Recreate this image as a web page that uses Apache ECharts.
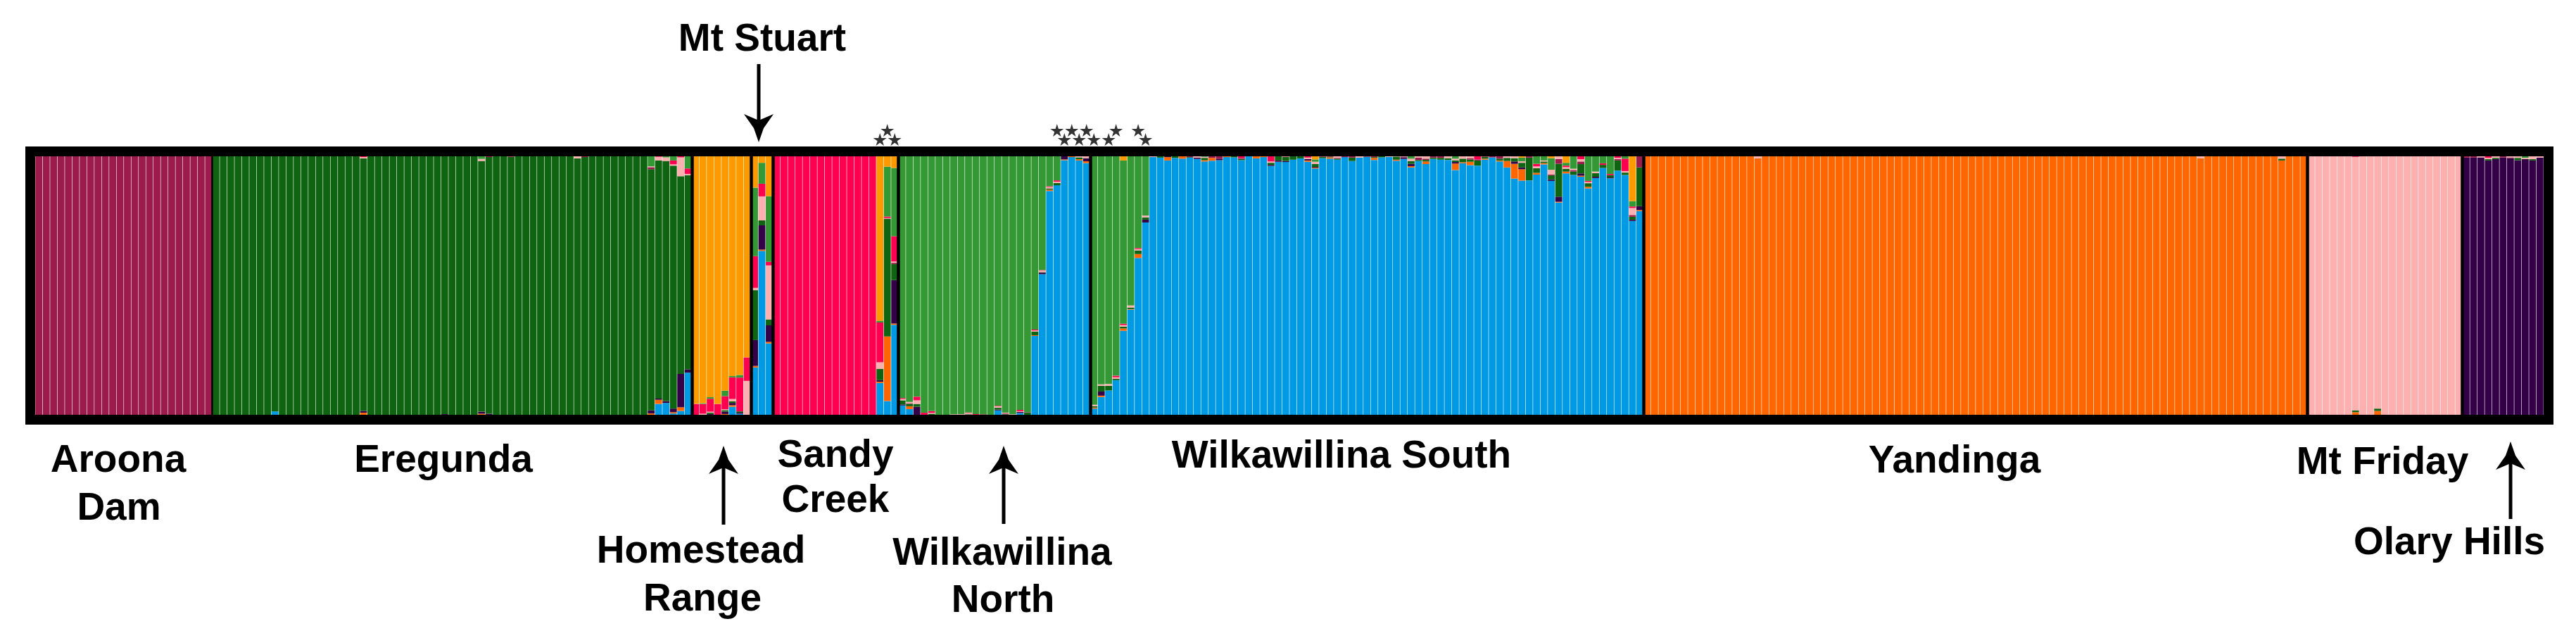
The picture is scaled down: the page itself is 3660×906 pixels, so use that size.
<!DOCTYPE html>
<html>
<head>
<meta charset="utf-8">
<script src="https://cdn.jsdelivr.net/npm/echarts@6/dist/echarts.min.js"></script>
<style>
  html, body { margin: 0; padding: 0; background: #fff; }
  #chart { width: 3660px; height: 906px; }
</style>
</head>
<body>
<div id="chart"></div>
<script>
// cluster order, bottom of each bar to top
var clusterNames = ['Wilkawillina South', 'Yandinga', 'Olary Hills', 'Eregunda', 'Aroona Dam',
                    'Mt Friday', 'Sandy Creek', 'Wilkawillina North', 'Homestead Range'];
var clusterColors = ['#009ae4', '#ff6600', '#330048', '#0e6410', '#9b1b4c',
                     '#fcb0b0', '#ff0050', '#349934', '#fd9a00'];

// membership (%) per individual, same order as clusterNames
var aroonaDam = [
  [0,0,0,0,100,0,0,0,0],[0,0,0,0,100,0,0,0,0],[0,0,0,0,100,0,0,0,0],[0,0,0,0,100,0,0,0,0],
  [0,0,0,0,100,0,0,0,0],[0,0,0,0,100,0,0,0,0],[0,0,0,0,100,0,0,0,0],[0,0,0,0,100,0,0,0,0],
  [0,0,0,0,100,0,0,0,0],[0,0,0,0,100,0,0,0,0],[0,0,0,0,100,0,0,0,0],[0,0,0,0,100,0,0,0,0],
  [0,0,0,0,100,0,0,0,0],[0,0,0,0,100,0,0,0,0],[0,0,0,0,100,0,0,0,0],[0,0,0,0,100,0,0,0,0],
  [0,0,0,0,100,0,0,0,0],[0,0,0,0,100,0,0,0,0],[0,0,0,0,100,0,0,0,0],[0,0,0,0,100,0,0,0,0],
  [0,0,0,0,100,0,0,0,0],[0,0,0,0,100,0,0,0,0],[0,0,0,0,100,0,0,0,0],[0,0,0,0,100,0,0,0,0]
];
var eregunda = [
  [0,0,0,100,0,0,0,0,0],[0,0,0,100,0,0,0,0,0],[0,0,0,100,0,0,0,0,0],[0,0,0,100,0,0,0,0,0],
  [0,0,0,100,0,0,0,0,0],[0,0,0,100,0,0,0,0,0],[0,0,0,100,0,0,0,0,0],[0,0,0,100,0,0,0,0,0],
  [1.3,0,0,98.7,0,0,0,0,0],
  [0,0,0,100,0,0,0,0,0],[0,0,0,100,0,0,0,0,0],[0,0,0,100,0,0,0,0,0],[0,0,0,100,0,0,0,0,0],
  [0,0,0,100,0,0,0,0,0],[0,0,0,100,0,0,0,0,0],[0,0,0,100,0,0,0,0,0],[0,0,0,100,0,0,0,0,0],
  [0,0,0,100,0,0,0,0,0],[0,0,0,100,0,0,0,0,0],[0,0,0,100,0,0,0,0,0],
  [0,0.8,0.7,97.7,0,0.5,0.3,0,0],
  [0,0,0,100,0,0,0,0,0],[0,0,0,100,0,0,0,0,0],[0,0,0,100,0,0,0,0,0],[0,0,0,100,0,0,0,0,0],
  [0,0,0,100,0,0,0,0,0],[0,0,0,100,0,0,0,0,0],[0,0,0,100,0,0,0,0,0],[0,0,0,100,0,0,0,0,0],
  [0,0,0,100,0,0,0,0,0],[0,0,0,100,0,0,0,0,0],
  [0,0,0.3,99.7,0,0,0,0,0],
  [0,0,0,100,0,0,0,0,0],[0,0,0,100,0,0,0,0,0],[0,0,0,100,0,0,0,0,0],[0,0,0,100,0,0,0,0,0],
  [0,0.4,0.8,97,0,0.8,0,1,0],
  [0,0,0.4,99.3,0.3,0,0,0,0],
  [0,0,0,100,0,0,0,0,0],[0,0,0,100,0,0,0,0,0],
  [0,0,0,99.8,0.2,0,0,0,0],
  [0,0,0,100,0,0,0,0,0],[0,0,0,100,0,0,0,0,0],[0,0,0,100,0,0,0,0,0],[0,0,0,100,0,0,0,0,0],
  [0,0,0,100,0,0,0,0,0],[0,0,0,100,0,0,0,0,0],[0,0,0,100,0,0,0,0,0],[0,0,0,100,0,0,0,0,0],
  [0,0,0,99.2,0,0.8,0,0,0],
  [0,0,0,99.7,0.3,0,0,0,0],
  [0,0,0,100,0,0,0,0,0],[0,0,0,100,0,0,0,0,0],[0,0,0,100,0,0,0,0,0],[0,0,0,100,0,0,0,0,0],
  [0,0,0,100,0,0,0,0,0],[0,0,0,100,0,0,0,0,0],[0,0,0,100,0,0,0,0,0],[0,0,0,100,0,0,0,0,0],
  [0,0.5,1.2,93.3,0.8,0.3,0,3.9,0],
  [4.2,1.6,0.5,92.1,0,1.4,0.2,0,0],
  [4.6,0,0.7,92.9,0,1.4,0,0.4,0],
  [0.5,0.5,1.4,94,0,0.5,1.5,1.6,0],
  [1.5,1.4,12.9,76.5,0,7.3,0.4,0,0],
  [16.3,0,1.3,75.1,0,0.5,2.1,4.7,0]
];
var homesteadRange = [
  [0,0,0,0,0,0,4.2,0,95.8],
  [0,0,0,0,0,0.4,3.8,0.3,95.5],
  [0,0,0.3,0.5,0,0.4,5,0.6,93.2],
  [0,0,0,0,0,0,4.2,0,95.8],
  [0,0.3,0.9,0.6,0,0.3,5.1,2.1,90.7],
  [3.1,0.6,0.9,0.6,0,0.9,8.4,0.5,85],
  [0.4,0,0.4,0.5,0,0,13.1,1,84.6],
  [0,0,0,0,0,13.1,9.1,0,77.8]
];
var mtStuart = [
  [18.3,0.6,10,19.3,0,0.9,12.3,26.5,12.1],
  [63.4,0.5,9.4,1.9,0,9.3,4.9,8.1,2.5],
  [27.6,0.6,6.4,2.3,0,20.9,1.4,25.4,15.4]
];
var sandyCreek = [
  [0,0,0,0,0,0,100,0,0],[0,0,0,0,0,0,100,0,0],[0,0,0,0,0,0,100,0,0],[0,0,0,0,0,0,100,0,0],
  [0,0,0,0,0,0,100,0,0],[0,0,0,0,0,0,100,0,0],[0,0,0,0,0,0,100,0,0],[0,0,0,0,0,0,100,0,0],
  [0,0,0,0,0,0,100,0,0],[0,0,0,0,0,0,100,0,0],[0,0,0,0,0,0,100,0,0],[0,0,0,0,0,0,100,0,0],
  [0,0,0,0,0,0,100,0,0],[0,0,0,0,0,0,100,0,0],
  [12.3,0.5,0.6,4.4,0,2.5,15.4,0.7,63.6],
  [5.3,25,0,45.6,0,0.2,0.6,19.3,4],
  [34.8,0.5,16.8,6.2,0.5,0.5,9.8,26.4,4.5]
];
var wilkawillinaNorth = [
  [3.6,0,0.4,1.6,0,0.5,0.4,93.5,0],
  [2.2,1.1,0,0.9,0.3,0.5,0,95,0],
  [0,0,3.1,1.1,0,1.4,1.4,93,0],
  [0,0,0,0,0,0,0.8,99.2,0],
  [0,0,0,0.4,0,0.3,0.7,98.6,0],
  [0,0,0,0,0,0,0,100,0],
  [0,0,0,0,0,0,0,100,0],
  [0,0,0,0,0,0.2,0,99.8,0],
  [0,0,0,0,0.1,0.2,0,99.7,0],
  [0,0,0,0.2,0,0.5,0.2,99.1,0],
  [0,0,0,0,0,0,0.3,99.7,0],
  [0,0,0,0,0.2,0,0,99.8,0],
  [0,0,0,0,0,0,0,100,0],
  [1.7,0,0.3,0.7,0,0.6,0.2,96.5,0],
  [0,0,0,0.2,0.3,0.3,0,99.2,0],
  [0,0,0,0,0,0.2,0,99.8,0],
  [0.7,0,0.4,0,0,0.3,0.5,98.1,0],
  [0,0,0,0.8,0.2,0,0,99,0],
  [30.5,0.3,0,1.4,0,0.4,0.4,67,0],
  [54.4,0,0.6,0.2,0,0.6,0.2,44,0],
  [86.6,0.5,0,0.5,0,0.5,0.3,11.6,0],
  [88.8,0,0,0.9,0,0.5,0.5,9.3,0],
  [98.5,0.3,1.2,0,0,0,0,0,0],
  [99.7,0.3,0,0,0,0,0,0,0],
  [98.4,0.5,0,0.7,0,0.4,0,0,0],
  [97.4,0.7,1.2,0,0,0.7,0,0,0]
];
var wilkawillinaSouth = [
  [2.4,0.4,0,0.5,0,0.6,0,96.1,0],
  [6.9,0.5,1.6,2.2,0,0.6,0,88.2,0],
  [9.4,0,0,1.8,0,0.7,0,88.1,0],
  [13.4,0,0,0.5,0,0.6,0.6,84.9,0],
  [32.5,0.9,0,0.7,0,0.6,0.5,63.2,1.6],
  [40.7,0.2,0,0.6,0,0.8,0,57.7,0],
  [60.7,1.5,0,1.4,0,0.5,0.4,35.5,0],
  [74.4,0,1.1,0.9,0,0.7,0,22.9,0],
  [99.7,0,0,0,0,0.3,0,0,0],
  [99.5,0,0,0.5,0,0,0,0,0],
  [98.4,1.3,0.3,0,0,0,0,0,0],
  [99.4,0,0,0.6,0,0,0,0,0],
  [99.1,0.9,0,0,0,0,0,0,0],
  [99.5,0,0,0.2,0.3,0,0,0,0],
  [99,0,0.5,0,0,0.5,0,0,0],
  [98,0.5,0,0.9,0,0.4,0,0.2,0],
  [98.3,1.1,0,0,0.6,0,0,0,0],
  [98.5,0,0.6,0,0.9,0,0,0,0],
  [99.7,0.3,0,0,0,0,0,0,0],
  [99.6,0,0,0.4,0,0,0,0,0],
  [98.5,0,0,0.5,0.4,0,0.6,0,0],
  [100,0,0,0,0,0,0,0,0],
  [99.2,0.8,0,0,0,0,0,0,0],
  [99.7,0.3,0,0,0,0,0,0,0],
  [96.3,0,0.4,0.8,0,0.5,2,0,0],
  [97.9,0,0.5,1.6,0,0,0,0,0],
  [97.8,0,0.4,1.6,0,0.1,0.1,0,0],
  [98.7,0,0,1.3,0,0,0,0,0],
  [99.2,0,0,0.8,0,0,0,0,0],
  [97.9,0.5,0.6,0,0,0.5,0.5,0,0],
  [95.3,0.3,0.3,1.1,0,0.9,0,0.9,1.2],
  [99.3,0,0,0.5,0.2,0,0,0,0],
  [99.1,0.5,0,0.2,0.2,0,0,0,0],
  [98.7,0,0,0.4,0.3,0.6,0,0,0],
  [99.7,0,0,0,0.3,0,0,0,0],
  [98.2,0,0,1.3,0.5,0,0,0,0],
  [99.5,0,0,0,0,0.5,0,0,0],
  [99.8,0,0,0,0.2,0,0,0,0],
  [98.6,0.8,0,0.3,0.3,0,0,0,0],
  [99.6,0,0,0.4,0,0,0,0,0],
  [99.8,0,0,0,0,0.2,0,0,0],
  [98.3,0.4,0,1.2,0,0.1,0,0,0],
  [99,0,0.6,0,0.3,0.1,0,0,0],
  [95.7,0.5,0.9,1.1,0,0.9,0,0.9,0],
  [98.2,0,0,0.4,0.9,0.5,0,0,0],
  [97,1,0,0.6,0.5,0.9,0,0,0],
  [99,0,0,0.5,0.5,0,0,0,0],
  [98.7,0,0,0.7,0.6,0,0,0,0],
  [98.6,0,0,0.7,0,0.7,0,0,0],
  [94.7,2.5,0.6,0.6,0,0.7,0,0.9,0],
  [97.3,0.4,0,1.4,0,0.9,0,0,0],
  [96.6,1.3,0,0.9,0.5,0.7,0,0,0],
  [96.4,0,0,2,0.4,0,1.2,0,0],
  [98.7,0.4,0,0.7,0.2,0,0,0,0],
  [99.6,0,0,0,0.4,0,0,0,0],
  [98,0.4,0,0.7,0.9,0,0,0,0],
  [95.7,2.5,0,1.2,0,0.6,0,0,0],
  [91.4,5.7,0.9,1.3,0,0.7,0,0,0],
  [90.6,4.4,0.7,1.8,0,0.6,0,1.4,0.5],
  [90.7,0,0,8.8,0.5,0,0,0,0],
  [92.9,0.7,0,1.8,0,0.7,1,2.9,0],
  [96.9,0.5,0,0.6,0,0.4,0,1.6,0],
  [90.5,0,0.6,1.5,0.4,1.8,0,4.5,0.7],
  [82.6,0.3,2,12.8,1.8,1.1,0,0,0],
  [93.4,0.7,0,1.1,0,0.6,0.6,1.1,2.5],
  [92.8,0,0,1.3,0.6,0.5,0,4.8,0],
  [91.8,0.4,0.9,3.6,1,0.9,1.1,0,0],
  [87.6,0.6,0,1.4,0,0.5,0.4,9.5,0],
  [91.6,0,0.5,1.4,0,0.6,0,5.9,0],
  [95.5,0,0,1.2,0,0,0.6,2.7,0],
  [91.5,0,0.3,0.9,0,0,0.5,6.8,0],
  [94.5,0,0,3.9,0.5,0.5,0.6,0,0],
  [92.8,0,0,0.9,0,0.6,4.8,0.9,0],
  [75,0,0.5,1.1,0.7,2.7,0.6,2.1,17.3],
  [78.8,0.4,1.5,15,4.3,0,0,0,0]
];
var yandinga = [
  [0,100,0,0,0,0,0,0,0],[0,100,0,0,0,0,0,0,0],[0,100,0,0,0,0,0,0,0],[0,100,0,0,0,0,0,0,0],[0,100,0,0,0,0,0,0,0],[0,100,0,0,0,0,0,0,0],
  [0,100,0,0,0,0,0,0,0],[0,100,0,0,0,0,0,0,0],[0,100,0,0,0,0,0,0,0],[0,100,0,0,0,0,0,0,0],[0,100,0,0,0,0,0,0,0],[0,100,0,0,0,0,0,0,0],
  [0,100,0,0,0,0,0,0,0],[0,100,0,0,0,0,0,0,0],[0,100,0,0,0,0,0,0,0],[0,99.2,0,0,0,0.8,0,0,0],[0,100,0,0,0,0,0,0,0],[0,100,0,0,0,0,0,0,0],
  [0,100,0,0,0,0,0,0,0],[0,100,0,0,0,0,0,0,0],[0,100,0,0,0,0,0,0,0],[0,100,0,0,0,0,0,0,0],[0,100,0,0,0,0,0,0,0],[0,100,0,0,0,0,0,0,0],
  [0,100,0,0,0,0,0,0,0],[0,100,0,0,0,0,0,0,0],[0,100,0,0,0,0,0,0,0],[0,100,0,0,0,0,0,0,0],[0,100,0,0,0,0,0,0,0],[0,100,0,0,0,0,0,0,0],
  [0,100,0,0,0,0,0,0,0],[0,100,0,0,0,0,0,0,0],[0,100,0,0,0,0,0,0,0],[0,100,0,0,0,0,0,0,0],[0,100,0,0,0,0,0,0,0],[0,100,0,0,0,0,0,0,0],
  [0,100,0,0,0,0,0,0,0],[0,100,0,0,0,0,0,0,0],[0,100,0,0,0,0,0,0,0],[0,100,0,0,0,0,0,0,0],[0,100,0,0,0,0,0,0,0],[0,100,0,0,0,0,0,0,0],
  [0,100,0,0,0,0,0,0,0],[0,100,0,0,0,0,0,0,0],[0,100,0,0,0,0,0,0,0],[0,100,0,0,0,0,0,0,0],[0,100,0,0,0,0,0,0,0],[0,100,0,0,0,0,0,0,0],
  [0,100,0,0,0,0,0,0,0],[0,100,0,0,0,0,0,0,0],[0,100,0,0,0,0,0,0,0],[0,100,0,0,0,0,0,0,0],[0,100,0,0,0,0,0,0,0],[0,100,0,0,0,0,0,0,0],
  [0,100,0,0,0,0,0,0,0],[0,100,0,0,0,0,0,0,0],[0,100,0,0,0,0,0,0,0],[0,100,0,0,0,0,0,0,0],[0,100,0,0,0,0,0,0,0],[0,100,0,0,0,0,0,0,0],
  [0,100,0,0,0,0,0,0,0],[0,100,0,0,0,0,0,0,0],[0,100,0,0,0,0,0,0,0],[0,100,0,0,0,0,0,0,0],[0,100,0,0,0,0,0,0,0],[0,100,0,0,0,0,0,0,0],
  [0,100,0,0,0,0,0,0,0],[0,100,0,0,0,0,0,0,0],[0,100,0,0,0,0,0,0,0],[0,100,0,0,0,0,0,0,0],[0,100,0,0,0,0,0,0,0],[0,100,0,0,0,0,0,0,0],
  [0,100,0,0,0,0,0,0,0],[0,100,0,0,0,0,0,0,0],[0,100,0,0,0,0,0,0,0],[0,99.3,0,0,0,0.7,0,0,0],[0,100,0,0,0,0,0,0,0],[0,100,0,0,0,0,0,0,0],
  [0,100,0,0,0,0,0,0,0],[0,100,0,0,0,0,0,0,0],[0,100,0,0,0,0,0,0,0],[0,100,0,0,0,0,0,0,0],[0,100,0,0,0,0,0,0,0],[0,100,0,0,0,0,0,0,0],
  [0,100,0,0,0,0,0,0,0],[0,100,0,0,0,0,0,0,0],[0,98.4,0,0.7,0,0.9,0,0,0],[0,100,0,0,0,0,0,0,0],[0,100,0,0,0,0,0,0,0],[0,100,0,0,0,0,0,0,0]
];
var mtFriday = [
  [0,0,0,0,0,100,0,0,0],[0,0,0,0,0,100,0,0,0],[0,0,0,0,0,100,0,0,0],[0,0,0,0,0,100,0,0,0],[0,0,0,0,0,100,0,0,0],[0,0,0,0,0,100,0,0,0],[0,1,0,0.7,0,98.1,0.2,0,0],
  [0,0,0,0,0,100,0,0,0],[0,0,0,0,0,100,0,0,0],[0,1.5,0,0.9,0,97.6,0,0,0],[0,0,0,0,0,100,0,0,0],[0,0,0,0,0,100,0,0,0],[0,0,0,0,0,100,0,0,0],[0,0,0,0,0,100,0,0,0],
  [0,0,0,0,0,100,0,0,0],[0,0,0,0,0,100,0,0,0],[0,0,0,0,0,100,0,0,0],[0,0,0,0,0,100,0,0,0],[0,0,0,0,0,100,0,0,0],[0,0,0,0,0,100,0,0,0],[0,0,0,0,0,100,0,0,0]
];
var olaryHills = [
  [0,0,99.5,0,0.5,0,0,0,0],
  [0,0,99.5,0,0.5,0,0,0,0],
  [0,0,99.6,0,0,0.4,0,0,0],
  [0,0,98.4,0.5,0,0.5,0.6,0,0],
  [0,0,98.9,0.5,0,0.6,0,0,0],
  [0,0,99.6,0,0.4,0,0,0,0],
  [0,0,99.3,0,0.3,0.4,0,0,0],
  [0,0,98.5,0.9,0,0.6,0,0,0],
  [0,0,98.9,0,0,0.5,0,0.6,0],
  [0,0,98.4,0.5,0,1.1,0,0,0],
  [0,0,99.5,0,0,0.5,0,0,0]
];

var populations = [aroonaDam, eregunda, homesteadRange, mtStuart, sandyCreek,
                   wilkawillinaNorth, wilkawillinaSouth, yandinga, mtFriday, olaryHills];

// starred (admixed) individuals: position along the plot, and row of the star (1 low, 2 high)
var starIndividuals = [114, 115, 116, 138, 139, 140, 141, 142, 143, 145, 146, 149, 150];
var starRows        = [1,   2,   1,   2,   1,   2,   1,   2,   1,   1,   2,   2,   1];

var individuals = [];
var boundaries = [];
populations.forEach(function (p, idx) {
  p.forEach(function (row) { individuals.push(row); });
  if (idx < populations.length - 1) boundaries.push(individuals.length);
});
var N = individuals.length;
var K = clusterNames.length;

var chart = echarts.init(document.getElementById('chart'));

var labelFont = 'bold 55px "Liberation Sans", Arial, Helvetica, sans-serif';
function label(text, x, y) {
  return { type: 'text', x: x, y: y, z: 100,
    style: { text: text, font: labelFont, fill: '#000', align: 'center', verticalAlign: 'middle' } };
}
function arrow(x, yTail, yTip) {
  var d = yTip > yTail ? 1 : -1;  // 1 = pointing down
  return [
    { type: 'line', z: 100, shape: { x1: x, y1: yTail, x2: x, y2: yTip - d * 28 },
      style: { stroke: '#000', lineWidth: 5 } },
    { type: 'polygon', z: 100,
      shape: { points: [[x, yTip], [x - 7, yTip - d * 20], [x - 21, yTip - d * 40], [x, yTip - d * 31],
                        [x + 21, yTip - d * 40], [x + 7, yTip - d * 20]] },
      style: { fill: '#000' } }
  ];
}

var starPath = 'path://M50,0 L61,35 L98,35 L68,57 L79,91 L50,70 L21,91 L32,57 L2,35 L39,35 Z';

var option = {
  animation: false,
  backgroundColor: '#fff',
  grid: [
    { left: 50, top: 222, width: 3564, height: 367 },
    { left: 50, top: 172, width: 3564, height: 39 }
  ],
  xAxis: [
    { type: 'value', gridIndex: 0, min: 0, max: N, show: false },
    { type: 'value', gridIndex: 1, min: 0, max: N, show: false }
  ],
  yAxis: [
    { type: 'value', gridIndex: 0, min: 0, max: 100, show: false },
    { type: 'value', gridIndex: 1, min: 0, max: 3, show: false }
  ],
  series: [
    {
      type: 'custom',
      xAxisIndex: 0,
      yAxisIndex: 0,
      silent: true,
      data: individuals.map(function (row, i) { return [i].concat(row); }),
      renderItem: function (params, api) {
        var i = api.value(0);
        var total = 0;
        for (var k = 0; k < K; k++) total += api.value(k + 1);
        var x0 = api.coord([i, 0])[0];
        var x1 = api.coord([i + 1, 0])[0];
        var acc = 0;
        var children = [];
        for (var k2 = 0; k2 < K; k2++) {
          var v = api.value(k2 + 1);
          if (!v) continue;
          var yb = api.coord([i, acc / total * 100])[1];
          acc += v;
          var yt = api.coord([i, acc / total * 100])[1];
          children.push({
            type: 'rect',
            shape: { x: x0 + 0.3, y: yt, width: x1 - x0 - 0.6, height: yb - yt },
            style: { fill: clusterColors[k2] }
          });
        }
        return { type: 'group', children: children };
      },
      markLine: {
        silent: true,
        symbol: 'none',
        label: { show: false },
        lineStyle: { color: '#000', type: 'solid', width: 4.5 },
        data: boundaries.map(function (b, j) {
          return { xAxis: b, lineStyle: { color: '#000', type: 'solid', width: j === 0 ? 2.5 : 4.5 } };
        })
      }
    },
    {
      type: 'scatter',
      xAxisIndex: 1,
      yAxisIndex: 1,
      silent: true,
      symbol: starPath,
      symbolSize: [19, 18],
      itemStyle: { color: '#000' },
      data: starIndividuals.map(function (s, j) { return [s + 0.5, starRows[j]]; })
    }
  ],
  graphic: [
    { type: 'rect', z: 100, shape: { x: 43, y: 215, width: 3578, height: 381 },
      style: { fill: 'none', stroke: '#000', lineWidth: 14 } },
    label('Aroona', 168, 655), label('Dam', 169, 723),
    label('Eregunda', 630, 655),
    label('Mt Stuart', 1083, 57),
    label('Sandy', 1187, 648), label('Creek', 1187, 712),
    label('Homestead', 996, 784), label('Range', 998, 852),
    label('Wilkawillina', 1424, 787), label('North', 1425, 854),
    label('Wilkawillina South', 1906, 649),
    label('Yandinga', 2777, 656),
    label('Mt Friday', 3385, 658),
    label('Olary Hills', 3480, 772)
  ].concat(arrow(1078, 91, 202), arrow(1028, 745, 633), arrow(1426, 744, 633), arrow(3567, 737, 627))
};

chart.setOption(option);
</script>
</body>
</html>
